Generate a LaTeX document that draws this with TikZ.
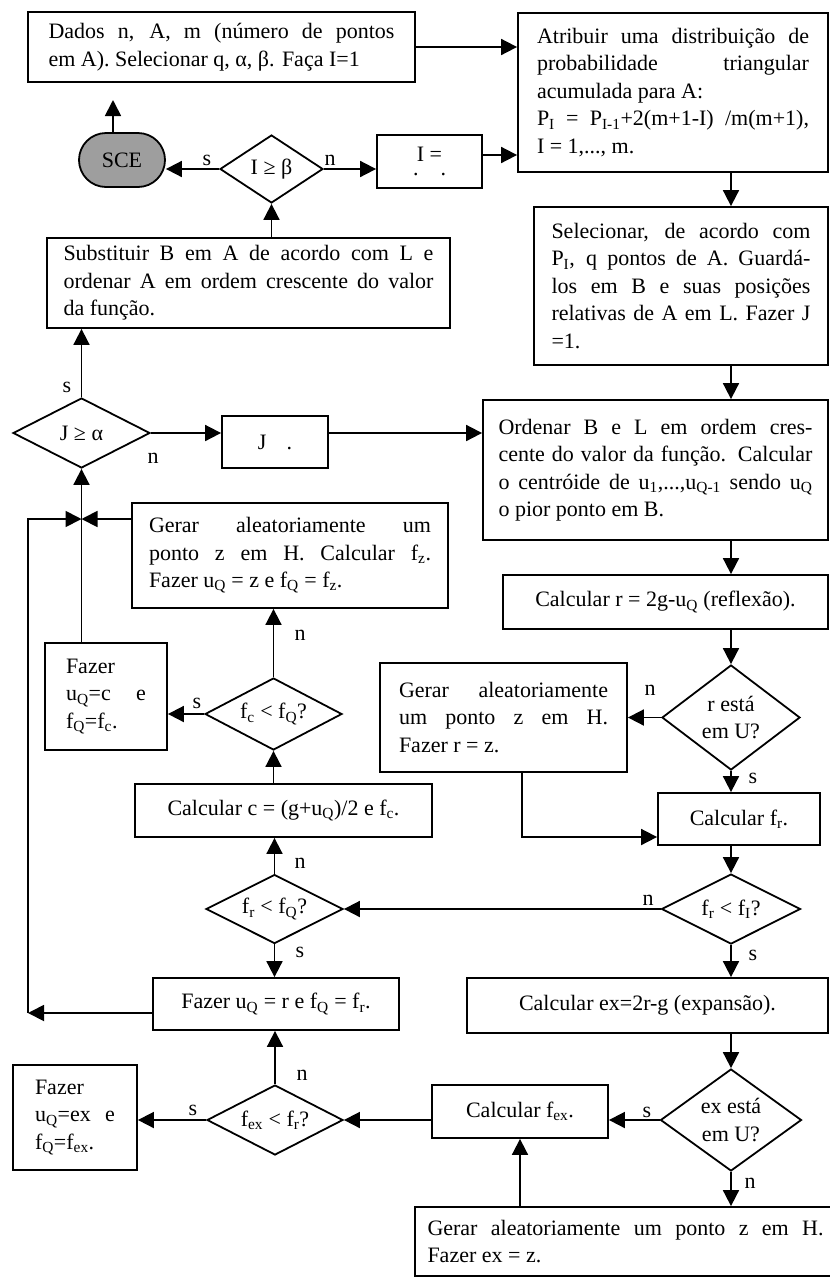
\documentclass[tikz,border=0pt]{standalone}
\usepackage{fontspec}
\setmainfont{Liberation Serif}
\usetikzlibrary{shapes.geometric,arrows.meta}
\newcommand{\sbs}[1]{\textsubscript{#1}}
% a justified (spread) line, as wide as the text block of its node
\newcommand{\curw}{0pt}
\newcommand{\jl}[1]{\leavevmode\hbox to \curw{#1}}
\definecolor{termgray}{gray}{0.62}
\tikzset{
  base/.style={draw, line width=1.8pt, inner sep=0pt, font=\fontsize{22}{27.5}\selectfont},
  proc/.style={base, rectangle, align=center},
  textbox/.style={base, rectangle, align=left, text width=#1,
    execute at begin node={\renewcommand{\curw}{#1}\spaceskip=0pt\xspaceskip=0pt\relax}},
  dec/.style={base, diamond, align=center},
  term/.style={base, rectangle, rounded corners=27pt, fill=termgray},
  arr/.style={line width=1.8pt, -{Triangle[length=16pt,width=16pt]}},
  lab/.style={font=\fontsize{22}{26}\selectfont, inner sep=0pt},
}
\begin{document}
\begin{tikzpicture}[x=1pt,y=-1pt]
\useasboundingbox (0,0) rectangle (830,1278);

% ---- right column ----
\node[textbox=346pt, minimum width=387pt, minimum height=70pt] (dados) at (221.5,47)
  {\jl{Dados n, A, m (número de pontos}\\ em A). Selecionar q, α, β. Faça I=1};
\node[textbox=272pt, minimum width=310pt, minimum height=159pt] (atr) at (673,92.5)
  {\jl{Atribuir uma distribuição de}\\ \jl{probabilidade triangular}\\ acumulada para A:\\
   \jl{P\sbs{I} = P\sbs{I-1}+2(m+1-I) /m(m+1),}\\ I = 1,..., m.};
\node[textbox=259pt, minimum width=294pt, minimum height=158pt] (sel) at (681,286)
  {\jl{Selecionar, de acordo com}\\ \jl{P\sbs{I}, q pontos de A. Guardá-}\\ \jl{los em B e suas posições}\\ \jl{relativas de A em L. Fazer J}\\ =1.};
\node[textbox=314pt, minimum width=345pt, minimum height=140pt] (ord) at (655.5,470)
  {\jl{Ordenar B e L em ordem cres-}\\ \jl{cente do valor da função. Calcular}\\ \jl{o centróide de u\sbs{1},...,u\sbs{Q-1} sendo u\sbs{Q}}\\ o pior ponto em B.};
\node[proc, minimum width=325pt, minimum height=54pt] (cr) at (665.5,602)
  {Calcular r = 2g-u\sbs{Q} (reflexão).};
\node[dec, minimum width=138pt, minimum height=105pt, shape aspect=1.31] (rd) at (731,717.5)
  {r está\\em U?};
\node[textbox=209pt, minimum width=247pt, minimum height=109pt] (gr) at (503.5,717.5)
  {\jl{Gerar aleatoriamente}\\ \jl{um ponto z em H.}\\ Fazer r = z.};
\node[proc, minimum width=162pt, minimum height=52pt] (cfr) at (739,819)
  {Calcular f\sbs{r}.};
\node[dec, minimum width=139pt, minimum height=70pt, shape aspect=1.98] (fri) at (731,909)
  {f\sbs{r} < f\sbs{I}?};
\node[proc, minimum width=361pt, minimum height=55pt] (cex) at (647.5,1005.5)
  {Calcular ex=2r-g (expansão).};
\node[dec, minimum width=141pt, minimum height=102pt, shape aspect=1.38] (exd) at (731,1120)
  {ex está\\em U?};
\node[proc, minimum width=176pt, minimum height=53pt] (cfx) at (520,1111.5)
  {Calcular f\sbs{ex}.};
\node[textbox=396pt, minimum width=421pt, minimum height=69pt] (gb) at (625.5,1241.5)
  {\jl{Gerar aleatoriamente um ponto z em H.}\\ Fazer ex = z.};

% ---- left column ----
\node[term, minimum width=86pt, minimum height=54pt] (sce) at (122,160) {SCE};
\node[dec, minimum width=103pt, minimum height=68pt, shape aspect=1.5] (ib) at (271.5,169) {I ≥ β};
\node[proc, minimum width=105pt, minimum height=53pt] (ibox) at (429.5,161.5)
  {I =\\[-14pt] .\hspace{22pt}.};
\node[textbox=370pt, minimum width=403pt, minimum height=90pt] (sub) at (248.5,283)
  {\jl{Substituir B em A de acordo com L e}\\ \jl{ordenar A em ordem crescente do valor}\\ da função.};
\node[dec, minimum width=137pt, minimum height=70pt, shape aspect=1.96] (jd) at (81.5,433) {J ≥ α};
\node[proc, minimum width=106pt, minimum height=52pt] (jbox) at (275,442) {J\hspace{20pt}.};
\node[textbox=282pt, minimum width=316pt, minimum height=105pt] (gz) at (290,555.5)
  {\jl{Gerar aleatoriamente um}\\ \jl{ponto z em H. Calcular f\sbs{z}.}\\ Fazer u\sbs{Q} = z e f\sbs{Q} = f\sbs{z}.};
\node[textbox=80pt, minimum width=122pt, minimum height=107pt] (fc) at (106,696.5)
  {Fazer\\ \jl{u\sbs{Q}=c e}\\ f\sbs{Q}=f\sbs{c}.};
\node[dec, minimum width=137pt, minimum height=72pt, shape aspect=1.9] (fcd) at (273.5,714)
  {f\sbs{c} < f\sbs{Q}?};
\node[proc, minimum width=297pt, minimum height=53pt] (cc) at (283.5,810.5)
  {Calcular c = (g+u\sbs{Q})/2 e f\sbs{c}.};
\node[dec, minimum width=137pt, minimum height=69pt, shape aspect=1.98] (frq) at (274.5,909)
  {f\sbs{r} < f\sbs{Q}?};
\node[proc, minimum width=246pt, minimum height=52pt] (fr) at (276,1004)
  {Fazer u\sbs{Q} = r e f\sbs{Q} = f\sbs{r}.};
\node[dec, minimum width=136pt, minimum height=70pt, shape aspect=1.94] (fxd) at (275,1120)
  {f\sbs{ex} < f\sbs{r}?};
\node[textbox=80pt, minimum width=124pt, minimum height=105pt] (fx) at (75,1117.5)
  {Fazer\\ \jl{u\sbs{Q}=ex e}\\ f\sbs{Q}=f\sbs{ex}.};

% free ends and bends of the loop lines
\coordinate (sceup) at (113,100);
\coordinate (jn) at (81.5,519);
\coordinate (lb) at (28,1013);
\coordinate (gq) at (522,837);

% ---- connectors ----
\draw[arr] (dados.east) -- (dados.east -| atr.west);
\draw[arr] ([yshift=6.5pt]ibox.east) -- ([yshift=6.5pt]ibox.east -| atr.west);
\draw[arr] (ib.east) -- (ib.east -| ibox.west);
\draw[arr] (ib.west) -- (ib.west -| sce.east);
\draw[arr] (sce.north -| sceup) -- (sceup);
\draw[arr] (ib.south |- sub.north) -- (ib.south);
\draw[arr] (rd.north |- atr.south) -- (rd.north |- sel.north);
\draw[arr] (rd.north |- sel.south) -- (rd.north |- ord.north);
\draw[arr] (rd.north |- ord.south) -- (rd.north |- cr.north);
\draw[arr] (rd.north |- cr.south) -- (rd.north);
\draw[arr] (rd.west) -- (rd.west -| gr.east);
\draw[arr] (rd.south) -- (rd.south |- cfr.north);
\draw[arr] (gr.south -| gq) |- (gq -| cfr.west);
\draw[arr] (fri.north |- cfr.south) -- (fri.north);
\draw[arr] (fri.west) -- (fri.west -| frq.east);
\draw[arr] (fri.south) -- (fri.south |- cex.north);
\draw[arr] (exd.north |- cex.south) -- (exd.north);
\draw[arr] (exd.west) -- (exd.west -| cfx.east);
\draw[arr] (exd.south) -- (exd.south |- gb.north);
\draw[arr] (cfx.south |- gb.north) -- (cfx.south);
\draw[arr] (cfx.west |- fxd.east) -- (fxd.east);
\draw[arr] (fxd.west) -- (fxd.west -| fx.east);
\draw[arr] (fxd.north) -- (fxd.north |- fr.south);
\draw[arr] (frq.south) -- (frq.south |- fr.north);
\draw[arr] (frq.north) -- (frq.north |- cc.south);
\draw[arr] (fcd.south |- cc.north) -- (fcd.south);
\draw[arr] (fcd.north) -- (fcd.north |- gz.south);
\draw[arr] (fcd.west) -- (fcd.west -| fc.east);
\draw[arr] (jd.south |- fc.north) -- (jd.south);
\draw[arr] (gz.west |- jn) -- (jn);
\draw[arr] (fr.west |- lb) -- (lb);
\draw[arr] (lb) |- (jn);
\draw[arr] (jd.north) -- (jd.north |- sub.south);
\draw[arr] (jd.east) -- (jd.east -| jbox.west);
\draw[arr] (jbox.east |- jd.east) -- (jd.east -| ord.west);

% ---- branch labels ----
\node[lab] at (207,160) {s};
\node[lab] at (330,160) {n};
\node[lab] at (67,387) {s};
\node[lab] at (153,458) {n};
\node[lab] at (650,690) {n};
\node[lab] at (753,778) {s};
\node[lab] at (648,900) {n};
\node[lab] at (753,955) {s};
\node[lab] at (647,1112) {s};
\node[lab] at (750,1183) {n};
\node[lab] at (197,703) {s};
\node[lab] at (300,635) {n};
\node[lab] at (300,863) {n};
\node[lab] at (300,952) {s};
\node[lab] at (302,1075) {n};
\node[lab] at (193,1110) {s};
\end{tikzpicture}
\end{document}
